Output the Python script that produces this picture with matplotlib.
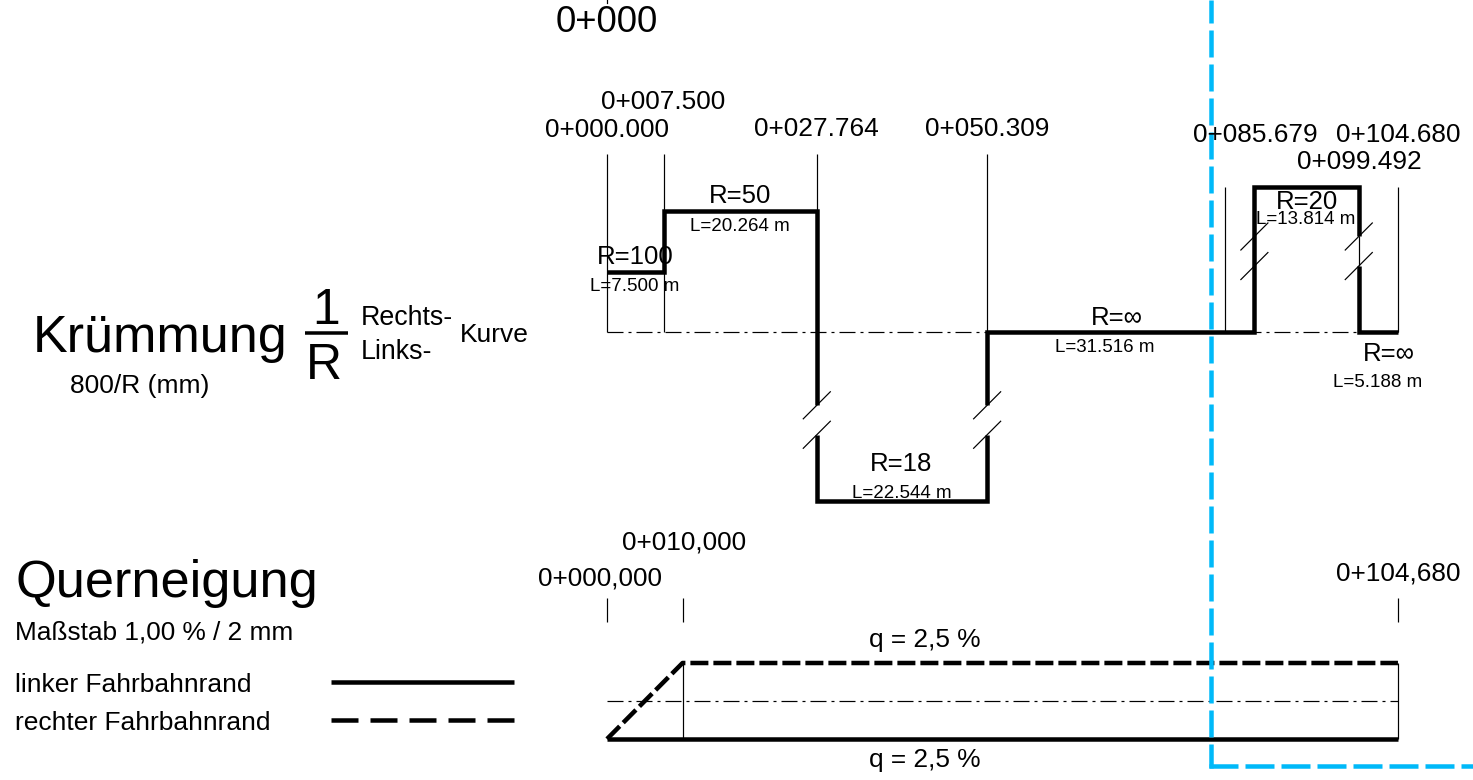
import matplotlib
matplotlib.use("Agg")
import matplotlib.pyplot as plt
import numpy as np

plt.rcParams['font.family'] = ['Liberation Sans', 'DejaVu Sans']

W, H = 1473, 780
PX_PER_M = 7.556
X0_PX = 607
CURV_Y0_PX = 332
QUER_Y0_PX = 701
PX_PER_MM = 7.556
PX_PER_PCT = 15.2
NAN = float('nan')

# Krümmungsband: stations and 800/R plot height (mm, high values broken in drawing)
curve_x = [0.0, 7.5, 7.5, 27.764, 27.764, 27.764, 27.764, 27.764,
           50.309, 50.309, 50.309, 50.309, 50.309,
           85.679, 85.679, 99.492, 99.492, 99.492, 99.492, 99.492, 104.68]
curve_y = [8.0, 8.0, 16.0, 16.0, -9.7, NAN, -13.6, -22.4,
           -22.4, -13.6, NAN, -9.7, 0.0,
           0.0, 19.2, 19.2, 12.64, NAN, 8.73, 0.0, 0.0]
curve_guides_x = [0.0, 7.5, 27.764, 50.309, 81.8, 104.68]
curve_guides_top = [23.5, 23.5, 23.5, 23.5, 19.2, 19.2]
curve_guides_bottom = [0.0, 0.0, 16.0, 0.0, 0.0, 0.0]
break_x = [27.764, 50.309, 85.679, 99.492]
break_y = [[-9.7, -13.6], [-9.7, -13.6], [12.64, 8.73], [12.64, 8.73]]
station_labels = ['0+000.000', '0+007.500', '0+027.764', '0+050.309', '0+085.679', '0+099.492', '0+104.680']
station_label_px = [(607, 128), (663, 100), (816, 127), (987, 127), (1255, 133), (1359, 160), (1398, 133)]
radius_labels = [('R=100', 635, 255), ('R=50', 740, 194), ('R=18', 901, 462), ('R=∞', 1117, 316),
                 ('R=20', 1307, 200), ('R=∞', 1389, 352)]
length_labels = [('L=7.500 m', 635, 285), ('L=20.264 m', 740, 225), ('L=22.544 m', 902, 492),
                 ('L=31.516 m', 1105, 346), ('L=13.814 m', 1306, 218), ('L=5.188 m', 1378, 381)]

# Querneigung: stations and cross slope (%)
q_x = [0.0, 10.0, 104.68]
q_left = [-2.5, -2.5, -2.5]
q_right = [-2.5, 2.5, 2.5]
q_ticks_x = [0.0, 10.0, 104.68]
q_labels = ['0+000,000', '0+010,000', '0+104,680']
q_label_px = [(600, 576), (684, 540), (1398, 571)]

INK = '#000000'
BLUE = '#00b9f9'
THICK = 4.5
THIN = 1.2


def lw(px):
    return px * 72 / 100


fig = plt.figure(figsize=(W / 100, H / 100), dpi=100, facecolor='white')


def make_axes(y0_px, per_unit):
    a = fig.add_axes([0, 0, 1, 1])
    a.set_xlim(-X0_PX / PX_PER_M, (W - X0_PX) / PX_PER_M)
    a.set_ylim((y0_px - H) / per_unit, y0_px / per_unit)
    a.axis('off')
    a.patch.set_alpha(0)
    return a


ax = make_axes(CURV_Y0_PX, PX_PER_MM)
axq = make_axes(QUER_Y0_PX, PX_PER_PCT)
pix = fig.add_axes([0, 0, 1, 1])
pix.set_xlim(0, W)
pix.set_ylim(H, 0)
pix.axis('off')
pix.patch.set_alpha(0)

CENTER_LS = (0, (16 / THIN, 5 / THIN, 3 / THIN, 5 / THIN))

# curvature band
ax.plot([0, 104.68], [0, 0], color=INK, lw=lw(THIN), ls=CENTER_LS, zorder=1)
ax.vlines(curve_guides_x, curve_guides_bottom, curve_guides_top, color=INK, lw=lw(THIN), zorder=1)
ax.plot(curve_x, curve_y, color=INK, lw=lw(THICK), solid_joinstyle='miter', solid_capstyle='butt', zorder=2)
ax.vlines(break_x[3], break_y[3][1], break_y[3][0], color=INK, lw=lw(THIN), zorder=2)
for x, ys in zip(break_x, break_y):
    for y in ys:
        ax.plot([x - 1.79, x + 1.79], [y - 1.79, y + 1.79], color=INK, lw=lw(THIN), zorder=4)

# cross-slope band
axq.plot([0, 104.68], [0, 0], color=INK, lw=lw(THIN), ls=CENTER_LS, zorder=1)
axq.vlines(q_ticks_x[1:], -2.5, 2.5, color=INK, lw=lw(THIN), zorder=1)
axq.vlines(q_ticks_x, 5.2, 6.8, color=INK, lw=lw(THIN), zorder=1)
axq.plot(q_x, q_left, color=INK, lw=lw(THICK), solid_capstyle='butt', zorder=2)
axq.plot(q_x, q_right, color=INK, lw=lw(THICK), ls=(0, (18 / THICK, 5 / THICK)), zorder=2)

# blue border
BLUE_W = 4.5
pix.plot([1211, 1211], [0, 768], color=BLUE, lw=lw(BLUE_W),
         ls=(4 / BLUE_W, (27 / BLUE_W, 7 / BLUE_W)), zorder=6)
pix.plot([1209, W], [766, 766], color=BLUE, lw=lw(BLUE_W),
         ls=(0, (29 / BLUE_W, 7 / BLUE_W)), zorder=6)


def t(s, x, y, size, ha='center'):
    pix.text(x, y + size * 0.11, s, fontsize=size, ha=ha, va='center', color=INK, zorder=7)


t('0+000', 607, 20, 26.4)
pix.plot([607, 607], [0, 3], color=INK, lw=lw(THIN))
for s, (x, y) in zip(station_labels, station_label_px):
    t(s, x, y, 18.9)
for s, x, y in radius_labels:
    t(s, x, y, 18.5)
for s, x, y in length_labels:
    t(s, x, y, 13.5)

t('Krümmung', 33, 334, 37.5, ha='left')
t('1', 326, 307, 36)
t('R', 324, 362, 36)
pix.plot([305, 348], [333, 333], color=INK, lw=lw(3.5), solid_capstyle='butt')
t('Rechts-', 361, 316, 19.3, ha='left')
t('Links-', 361, 350, 19.3, ha='left')
t('Kurve', 460, 333, 19, ha='left')
t('800/R (mm)', 70, 384, 19, ha='left')

t('Querneigung', 15, 579, 37.7, ha='left')
t('Maßstab 1,00 % / 2 mm', 15, 630, 18.9, ha='left')
t('linker Fahrbahnrand', 15, 683, 19, ha='left')
t('rechter Fahrbahnrand', 15, 721, 19, ha='left')
pix.plot([331, 514], [682, 682], color=INK, lw=lw(THICK), solid_capstyle='butt')
pix.plot([331, 514], [720, 720], color=INK, lw=lw(THICK), ls=(0, (27 / THICK, 12 / THICK)))

for s, (x, y) in zip(q_labels, q_label_px):
    t(s, x, y, 18.9)
t('q = 2,5 %', 925, 638, 18.9)
t('q = 2,5 %', 925, 758, 18.9)

fig.savefig('out.png', dpi=100, facecolor='white')
